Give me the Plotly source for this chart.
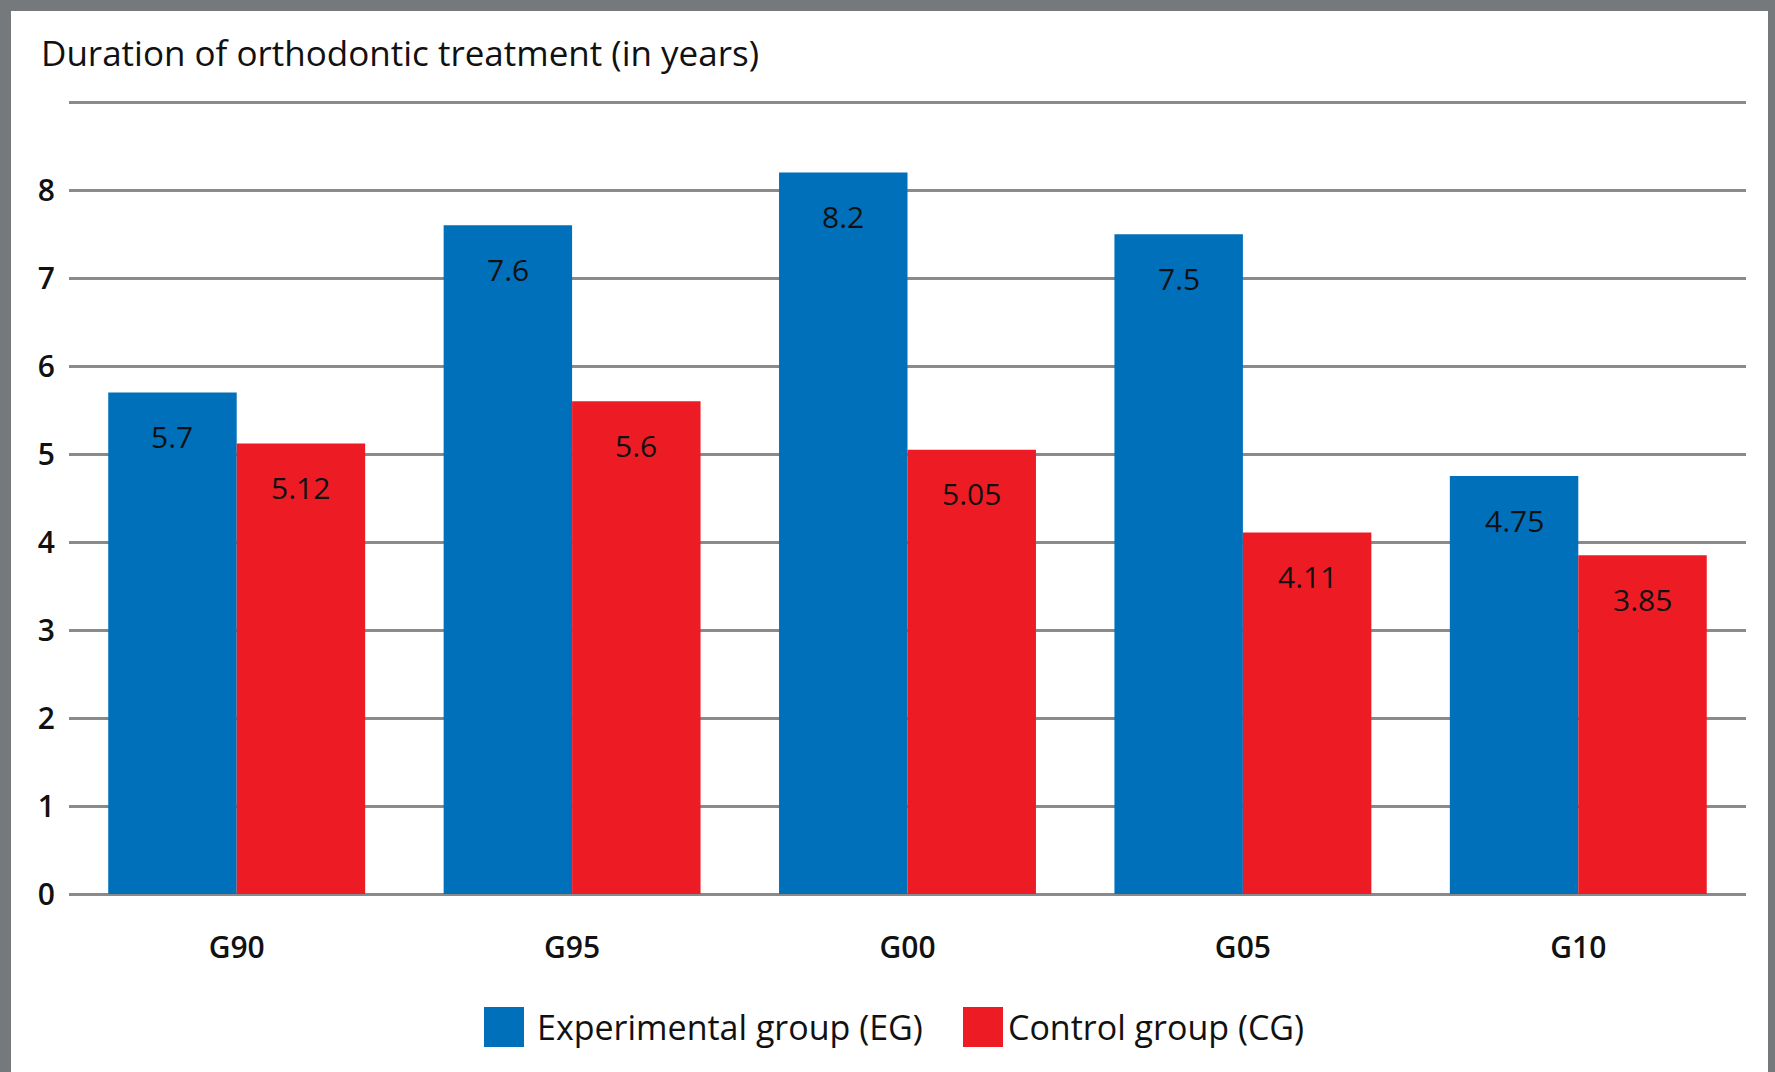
import plotly.graph_objects as go

categories = ["G90", "G95", "G00", "G05", "G10"]
eg_values = [5.7, 7.6, 8.2, 7.5, 4.75]
cg_values = [5.12, 5.6, 5.05, 4.11, 3.85]
eg_name = "Experimental group (EG)"
cg_name = "Control group (CG)"
y_tickvals = [0, 1, 2, 3, 4, 5, 6, 7, 8, 9]
y_ticktext = ["0", "1", "2", "3", "4", "5", "6", "7", "8", ""]
title_text = "Duration of orthodontic treatment (in years)"

BLUE = "#0070BA"
RED = "#ED1C24"
GRID = "#8a8a8a"
FONT = "Open Sans"
TXT = "#111111"
BARGAP = 0.234

fig = go.Figure()
for name, vals, col in [(eg_name, eg_values, BLUE), (cg_name, cg_values, RED)]:
    fig.add_trace(go.Bar(
        x=categories, y=vals, name=name, marker=dict(color=col, line=dict(width=0)),
        showlegend=False,
    ))

W, H = 1775, 1072
L, R, T, B = 69, 29, 100, 178
pw, ph = W - L - R, H - T - B

def px_x(p):
    return (p - L) / pw

def px_y(p):
    return (H - B - p) / ph

annotations = []
half = (1 - BARGAP) / 4  # centre offset of each bar within its group
for k, (vals, off) in enumerate([(eg_values, -half), (cg_values, half)]):
    for i, v in enumerate(vals):
        annotations.append(dict(
            x=i + off, y=v, xref="x", yref="y", text=f"{v:g}", showarrow=False,
            yanchor="middle", xanchor="center", yshift=-44,
            font=dict(family=FONT, size=30, color=TXT, weight=500)))

shapes = [
    dict(type="rect", xref="paper", yref="paper", layer="below",
         x0=px_x(11), x1=px_x(1768), y0=px_y(1100), y1=px_y(11),
         fillcolor="white", line=dict(width=0)),
]
legend_items = [(eg_name, BLUE, 484, 535), (cg_name, RED, 963, 1006)]
for name, col, sx, tx in legend_items:
    shapes.append(dict(type="rect", xref="paper", yref="paper",
                       x0=px_x(sx), x1=px_x(sx + 40), y0=px_y(1047), y1=px_y(1007),
                       fillcolor=col, line=dict(width=0)))
    annotations.append(dict(text=name, xref="paper", yref="paper", x=px_x(tx), y=px_y(1027),
                            xanchor="left", yanchor="middle", showarrow=False,
                            font=dict(family=FONT, size=34, color=TXT, weight=500)))

fig.update_layout(
    width=W, height=H,
    margin=dict(l=L, r=R, t=T, b=B),
    paper_bgcolor="#76797c", plot_bgcolor="white",
    barmode="group", bargap=BARGAP, bargroupgap=0,
    title=dict(text=title_text, x=41 / W, xanchor="left", xref="container",
               y=1 - 54 / H, yanchor="middle", yref="container",
               font=dict(family=FONT, size=35, color=TXT, weight=500)),
    xaxis=dict(type="category", showgrid=False, showline=False, zeroline=False,
               ticks="", ticklabelstandoff=33, range=[-0.5, 4.5],
               tickfont=dict(family=FONT, size=30, color=TXT, weight=600)),
    yaxis=dict(range=[0, 9.025], tickvals=y_tickvals, ticktext=y_ticktext,
               showgrid=True, gridcolor=GRID, gridwidth=2.5,
               zeroline=True, zerolinecolor=GRID, zerolinewidth=2.5, showline=False,
               ticks="", ticklabelstandoff=13,
               tickfont=dict(family=FONT, size=30, color=TXT, weight=600)),
    shapes=shapes, annotations=annotations,
    font=dict(family=FONT),
)

fig.write_html("out.html", config={"displayModeBar": False},
               post_script="document.body.style.margin='0';")
